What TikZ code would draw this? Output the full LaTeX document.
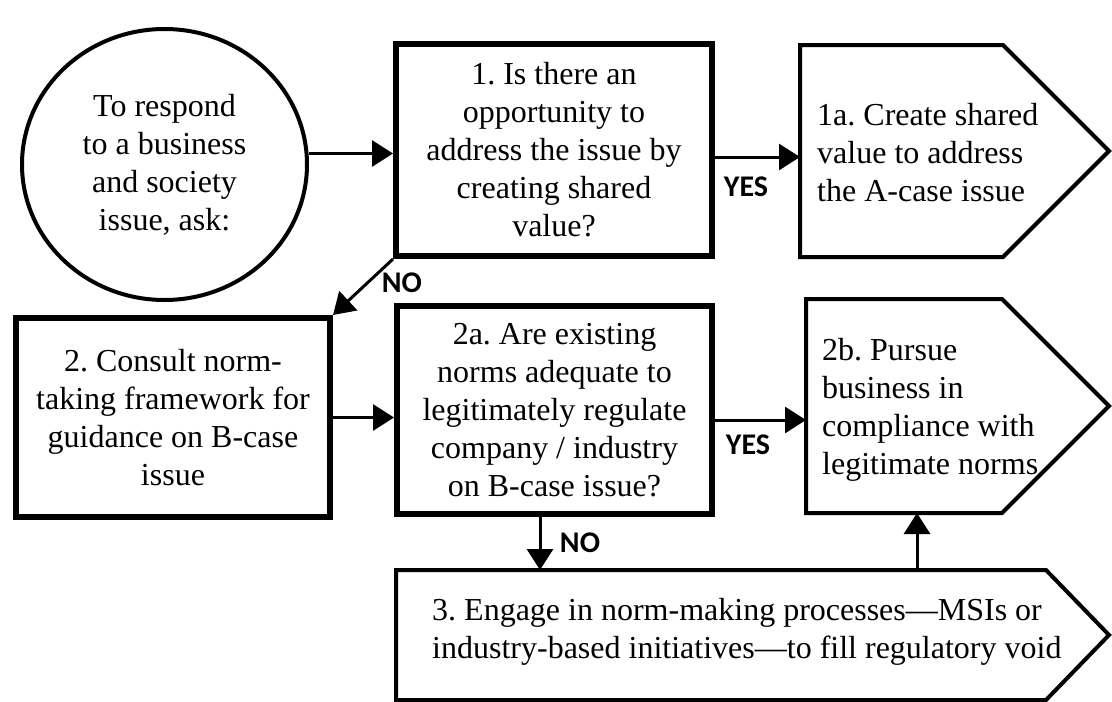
\documentclass[tikz,border=0pt]{standalone}
\usepackage{fontspec}
\setmainfont{Liberation Serif}
\newfontfamily\labelfont{Carlito}
\usetikzlibrary{arrows.meta,shapes.geometric}
\frenchspacing
\begin{document}
\begin{tikzpicture}[x=1pt,y=-1pt,
  boxstyle/.style={draw, line width=6pt, inner sep=0pt, align=center,
    font=\fontsize{32}{38}\selectfont},
  pent/.style={inner sep=0pt, outer sep=0pt},
  pentline/.style={draw, line width=4pt, line join=miter},
  conn/.style={line width=3pt, -{Triangle[length=21pt,width=26pt]}},
  yn/.style={font=\labelfont\bfseries\fontsize{30}{34}\selectfont, inner sep=0pt},
  ptxt/.style={align=left, anchor=west, inner sep=0pt,
    font=\fontsize{32}{38}\selectfont}]
\useasboundingbox (0,0) rectangle (1112,702);
\fill[white] (0,0) rectangle (1112,702);

% start ellipse
\node[draw, ellipse, line width=4pt, minimum width=285pt, minimum height=271pt,
  inner sep=0pt, align=center, font=\fontsize{32}{38}\selectfont]
  (circ) at (164.5,164.5) {To respond\\to a business\\and society\\issue, ask:};

% boxes
\node[boxstyle, minimum width=316pt, minimum height=212pt] (b1) at (554,150)
  {1. Is there an\\opportunity to\\address the issue by\\creating shared\\value?};
\node[boxstyle, minimum width=314pt, minimum height=199pt] (b2) at (173,417.5)
  {2. Consult norm-\\taking framework for\\guidance on B-case\\issue};
\node[boxstyle, minimum width=315pt, minimum height=208pt] (b2a) at (554.5,410)
  {2a. Are existing\\norms adequate to\\legitimately regulate\\company / industry\\on B-case issue?};

% pentagons
\node[pent, minimum width=203pt, minimum height=212pt] (a1) at (901.5,151) {};
\draw[pentline] (a1.north west) -- (a1.north east) -- ([xshift=106pt]a1.east)
  -- (a1.south east) -- (a1.south west) -- cycle;
\node[ptxt] (t1a) at (817,153) {1a. Create shared\\value to address\\the A-case issue};

\node[pent, minimum width=196pt, minimum height=214pt] (b2b) at (904,406) {};
\draw[pentline] (b2b.north west) -- (b2b.north east) -- ([xshift=107pt]b2b.east)
  -- (b2b.south east) -- (b2b.south west) -- cycle;
\node[ptxt] (t2b) at (822,410) {2b. Pursue\\business in\\compliance with\\legitimate norms};

\node[pent, minimum width=650pt, minimum height=130pt] (b3) at (721,635) {};
\draw[pentline] (b3.north west) -- (b3.north east) -- ([xshift=63pt]b3.east)
  -- (b3.south east) -- (b3.south west) -- cycle;
\node[ptxt] (t3) at (432,632) {3. Engage in norm-making processes—MSIs or\\industry-based initiatives—to fill regulatory void};

% helper coordinates
\coordinate (c1) at ([yshift=11pt]circ.east);
\coordinate (c2) at ([yshift=-7pt]b1.east);
\coordinate (c3) at ([yshift=-10pt]b2a.east);
\coordinate (c4) at ([xshift=-14.5pt]b2a.south);
\coordinate (c5) at ([xshift=111pt]b2b.south west);

% connectors
\draw[conn] (c1) -- (c1 -| b1.west);
\draw[conn] (c2) -- (c2 -| a1.west);
\draw[conn] (b1.south west) -- (b2.north east);
\draw[conn] (b2.east) -- (b2.east -| b2a.west);
\draw[conn] (c3) -- (c3 -| b2b.west);
\draw[conn] (c4) -- (c4 |- b3.north);
\draw[conn] (c5 |- b3.north) -- (c5);

% labels
\node[yn] (yes1) at (746,187) {YES};
\node[yn] (yes2) at (748,445) {YES};
\node[yn] (no1) at (402,283) {NO};
\node[yn] (no2) at (580,543) {NO};
\end{tikzpicture}
\end{document}
